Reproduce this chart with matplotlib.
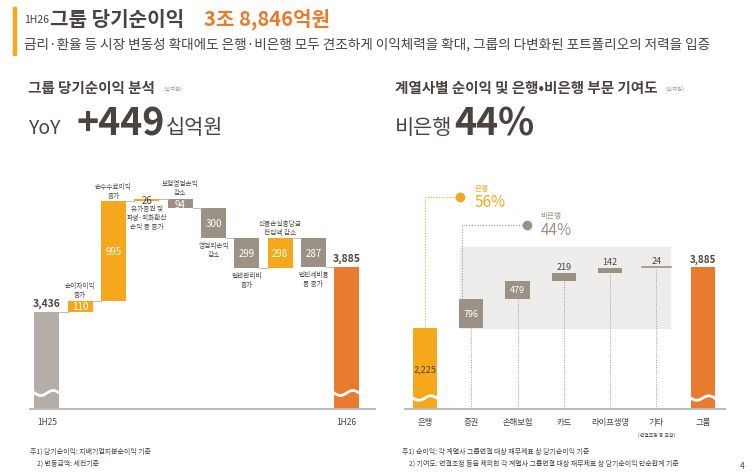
import matplotlib
matplotlib.use("Agg")
import matplotlib.pyplot as plt
import numpy as np

plt.rcParams['font.family'] = ['Noto Sans CJK KR', 'DejaVu Sans']

YEL = '#F5A81C'; GRY = '#9C9185'; ORG = '#E87B2E'; TXT = '#4A4340'; SHADE = '#EFEDEB'

# ---- data ----
wf_start = 3436
wf_changes = [110, 995, 26, -94, -300, -299, 298, -287]
wf_end = 3885
wf_labels = ['순이자이익\n증가', '순수수료이익\n증가', '유가증권 및\n파생·외화환산\n손익 등 증가', '보험영업손익\n감소',
             '영업외손익\n감소', '일반관리비\n증가', '신용손실충당금\n전입액 감소', '법인세비용\n등 증가']
wf_ticks = ['1H25', '1H26']

cats = ['은행', '증권', '손해보험', '카드', '라이프생명', '기타', '그룹']
contrib = [2225, 796, 479, 219, 142, 24]
group_total = 3885

W, H = 755, 477
fig = plt.figure(figsize=(W/100, H/100), dpi=100)

def fx(px): return px / W
def fy(py): return 1 - py / H

# header
fig.patches.append(plt.Rectangle((fx(13), fy(56)), fx(2.5), 48/H, transform=fig.transFigure, color=YEL))
fig.text(fx(24), fy(20), '1H26', fontsize=7.5, color=TXT, va='center')
fig.text(fx(50), fy(19), '그룹 당기순이익', fontsize=14.5, color=TXT, va='center', fontweight='bold')
fig.text(fx(204), fy(19), '3조 8,846억원', fontsize=14.5, color=ORG, va='center', fontweight='bold')
fig.text(fx(24), fy(44), '금리·환율 등 시장 변동성 확대에도 은행·비은행 모두 견조하게 이익체력을 확대, 그룹의 다변화된 포트폴리오의 저력을 입증',
         fontsize=9.8, color=TXT, va='center')

fig.text(fx(28), fy(88), '그룹 당기순이익 분석', fontsize=10.5, color=TXT, va='center', fontweight='bold')
fig.text(fx(163), fy(89), '(십억원)', fontsize=4, color='#999', va='center')
fig.text(fx(28), fy(128), 'YoY', fontsize=14, color=TXT, va='center')
fig.text(fx(76), fy(124), '+449', fontsize=27, color=TXT, va='center', fontweight='bold')
fig.text(fx(166), fy(128), '십억원', fontsize=15, color=TXT, va='center')

fig.text(fx(395), fy(88), '계열사별 순이익 및 은행•비은행 부문 기여도', fontsize=10.5, color=TXT, va='center', fontweight='bold')
fig.text(fx(665), fy(89), '(십억원)', fontsize=4, color='#999', va='center')
fig.text(fx(395), fy(128), '비은행', fontsize=15, color=TXT, va='center')
fig.text(fx(454), fy(124), '44%', fontsize=27, color=TXT, va='center', fontweight='bold')

# ---- left waterfall ----
axL = fig.add_axes([fx(30), fy(410), 345/W, 240/H])
ybot = 2465
axL.set_xlim(-0.51, 9.85); axL.set_ylim(ybot, ybot + 2400)
axL.axis('off')
bw = 0.75
axL.bar(0, wf_start - ybot, bottom=ybot, width=bw, color='#B5ADA7')
axL.bar(9, wf_end - ybot, bottom=ybot, width=bw, color=ORG)
axL.text(0, wf_start + 40, f'{wf_start:,}', ha='center', va='bottom', fontsize=7.5, color=TXT, fontweight='bold')
axL.text(9, wf_end + 40, f'{wf_end:,}', ha='center', va='bottom', fontsize=7.5, color=TXT, fontweight='bold')
cum = wf_start
for i, ch in enumerate(wf_changes, start=1):
    col = YEL if ch > 0 else GRY
    lo, hi = (cum, cum + ch) if ch > 0 else (cum + ch, cum)
    axL.plot([i - 1 + bw/2, i - bw/2], [cum, cum], color='#BBB', lw=0.7)
    axL.bar(i, hi - lo, bottom=lo, width=bw, color=col)
    axL.text(i, (lo + hi)/2, f'{abs(ch)}', ha='center', va='center', fontsize=7,
             color=TXT if abs(ch) < 50 else 'white')
    if i in (1, 2, 4, 7):
        axL.text(i, hi + 25, wf_labels[i-1], ha='center', va='bottom', fontsize=4.8, color=TXT, linespacing=1.2)
    else:
        axL.text(i, lo - 25, wf_labels[i-1], ha='center', va='top', fontsize=4.8, color=TXT, linespacing=1.2)
    cum += ch
axL.plot([8 + bw/2, 9 - bw/2], [cum, cum], color='#BBB', lw=0.7)
for xc in (0, 9):
    xs = np.linspace(xc - bw/2, xc + bw/2, 30)
    axL.plot(xs, ybot + 160 + 25*np.sin((xs - xc)*2*np.pi/bw), color='white', lw=2)
axL.plot([-0.51, 9.85], [ybot, ybot], color='#BBB', lw=1.5, clip_on=False)
axL.text(0, ybot - 80, wf_ticks[0], ha='center', va='top', fontsize=6, color=TXT)
axL.text(9, ybot - 80, wf_ticks[1], ha='center', va='top', fontsize=6, color=TXT)

# ---- right chart ----
axR = fig.add_axes([fx(405), fy(410), 320/W, 220/H])
axR.set_xlim(-0.43, 6.48); axR.set_ylim(0, 6020)
axR.axis('off')
rw = 0.52
axR.add_patch(plt.Rectangle((0.76, 2225), 5.3 - 0.76, 4430 - 2225, color=SHADE, zorder=0))
axR.bar(0, contrib[0], width=rw, color=YEL)
axR.text(0, contrib[0]/2, f'{contrib[0]:,}', ha='center', va='center', fontsize=6.5, color=TXT)
cum = contrib[0]
for i, v in enumerate(contrib[1:], start=1):
    axR.plot([i, i], [0, cum], color='#999', lw=0.7, ls=(0, (1, 1.5)), zorder=1)
    if v > 100:
        axR.bar(i, v, bottom=cum, width=rw, color=GRY, zorder=2)
    else:
        axR.plot([i - rw*0.6, i + rw*0.6], [cum + v, cum + v], color=GRY, lw=1.2, zorder=2)
    if v > 300:
        axR.text(i, cum + v/2, f'{v}', ha='center', va='center', fontsize=6.5, color='white', zorder=3)
    else:
        axR.text(i, cum + v + 60, f'{v}', ha='center', va='bottom', fontsize=6.5, color=TXT, zorder=3)
    cum += v
axR.bar(6, group_total, width=rw, color=ORG)
axR.text(6, group_total + 80, f'{group_total:,}', ha='center', va='bottom', fontsize=7, color=TXT, fontweight='bold')
for xc in (0, 6):
    xs = np.linspace(xc - rw/2, xc + rw/2, 30)
    axR.plot(xs, 300 + 60*np.sin((xs - xc)*2*np.pi/rw), color='white', lw=2)
axR.plot([-0.43, 6.48], [0, 0], color='#BBB', lw=1.5, clip_on=False)
for i, c in enumerate(cats):
    axR.text(i, -230, c, ha='center', va='top', fontsize=6, color=TXT)
axR.text(5, -620, '(연결조정 등 포함)', ha='center', va='top', fontsize=3.5, color=TXT)

# callouts
yb, ynb = 5800, 5040
axR.plot([0, 0, 0.76], [contrib[0], yb, yb], color=YEL, lw=0.8, ls=(0, (1, 1.5)), clip_on=False)
axR.plot(0.76, yb, 'o', color=YEL, ms=6, clip_on=False)
axR.text(1.08, yb + 150, '은행', fontsize=5.5, color=YEL, va='bottom', clip_on=False)
axR.text(1.08, yb + 100, '56%', fontsize=11, color=YEL, va='top', clip_on=False)
axR.plot([0.8, 0.8, 2.2], [contrib[0] + 796, ynb, ynb], color='#999', lw=0.8, ls=(0, (1, 1.5)), clip_on=False)
axR.plot(2.2, ynb, 'o', color=GRY, ms=6, clip_on=False)
axR.text(2.5, ynb + 150, '비은행', fontsize=5.5, color=GRY, va='bottom', clip_on=False)
axR.text(2.5, ynb + 100, '44%', fontsize=11, color=GRY, va='top', clip_on=False)

# footnotes
fs = 5
fig.text(fx(30), fy(452), '주1) 당기순이익: 지배기업지분순이익 기준', fontsize=fs, color=TXT, va='center')
fig.text(fx(37), fy(464), '2) 변동금액: 세전기준', fontsize=fs, color=TXT, va='center')
fig.text(fx(402), fy(452), '주1) 순이익: 각 계열사 그룹연결 대상 재무제표 상 당기순이익 기준', fontsize=fs, color=TXT, va='center')
fig.text(fx(409), fy(464), '2) 기여도: 연결조정 등을 제외한 각 계열사 그룹연결 대상 재무제표 상 당기순이익 단순합계 기준', fontsize=fs, color=TXT, va='center')
fig.text(fx(740), fy(467), '4', fontsize=6, color=TXT, va='center')

fig.savefig('out.png', dpi=100)
